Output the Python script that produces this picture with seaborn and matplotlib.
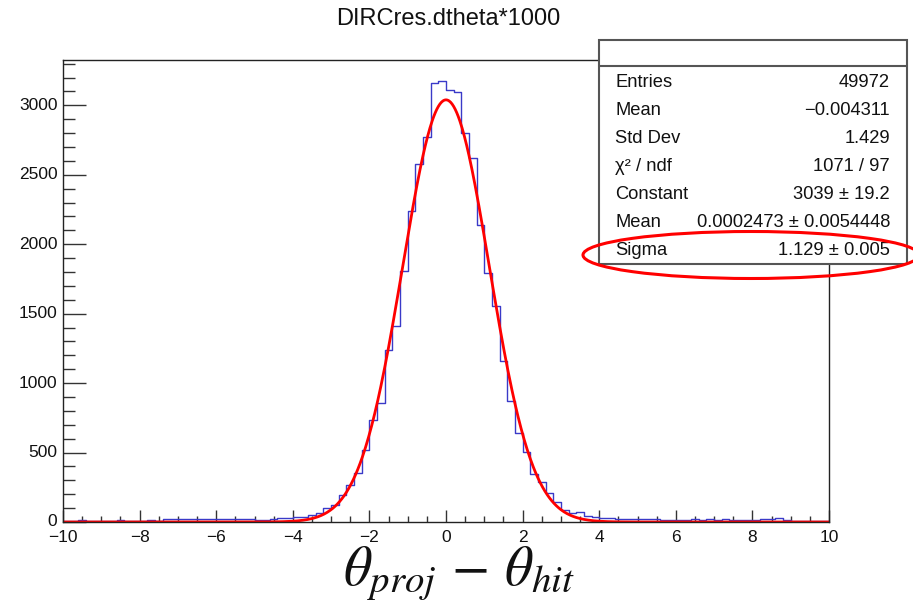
import numpy as np
import pandas as pd
import matplotlib
matplotlib.use("Agg")
import matplotlib.pyplot as plt
import seaborn as sns
from matplotlib.patches import Rectangle, Ellipse
from matplotlib.lines import Line2D
from matplotlib.ticker import MultipleLocator

# ---------------- data ----------------
title_text = "DIRCres.dtheta*1000"
x_low, x_high, n_bins = -10.0, 10.0, 100

# bin contents, left to right (bin width 0.2 from -10 to 10)
counts = [
    8, 10, 14, 9, 8, 10, 9, 11, 10, 9,            # -10.0 .. -8.2
    10, 11, 10, 20, 21, 22, 20, 21, 22, 20,       # -8.0 .. -6.2
    21, 22, 21, 22, 20, 14, 12, 22, 30, 31,       # -6.0 .. -4.2
    33, 38, 48, 67, 103, 122, 195, 267, 351, 520, # -4.0 .. -2.2
    734, 857, 1240, 1408, 1805, 2238, 2577, 2775, 3160, 3177,  # -2.0 .. -0.2
    3112, 3095, 2799, 2621, 2137, 1796, 1552, 1162, 874, 638,  # 0.0 .. 1.8
    505, 344, 285, 208, 143, 86, 63, 70, 45, 38,  # 2.0 .. 3.8
    31, 31, 22, 22, 22, 22, 22, 18, 16, 16,       # 4.0 .. 5.8
    16, 16, 20, 16, 22, 16, 18, 14, 14, 14,       # 6.0 .. 7.8
    14, 18, 20, 26, 12, 8, 8, 8, 8, 8,            # 8.0 .. 9.8
]

# fit result (gaus) as shown in the stats box
fit_constant = 3039.0
fit_mean = 0.0002473
fit_sigma = 1.129

stat_labels = ["Entries", "Mean", "Std Dev", "\u03c7\u00b2 / ndf", "Constant", "Mean", "Sigma"]
stat_values = ["49972", "\u22120.004311", "1.429", "1071 / 97",
               "3039 \u00b1 19.2", "0.0002473 \u00b1 0.0054448", "1.129 \u00b1 0.005"]

x_ticks = [-10, -8, -6, -4, -2, 0, 2, 4, 6, 8, 10]
y_ticks = [0, 500, 1000, 1500, 2000, 2500, 3000]
y_max = 3326
x_label = r"$\theta_{proj}\,-\,\theta_{hit}$"

# ---------------- figure ----------------
sns.set_theme(style="ticks")
plt.rcParams["font.family"] = ["Liberation Sans", "DejaVu Sans"]
plt.rcParams["mathtext.fontset"] = "stix"

W, H = 913, 609
fig = plt.figure(figsize=(W / 100, H / 100), dpi=100)
fig.patch.set_facecolor("white")

ax_l, ax_r, ax_t, ax_b = 63, 829, 60, 522
ax = fig.add_axes([ax_l / W, 1 - ax_b / H, (ax_r - ax_l) / W, (ax_b - ax_t) / H])
ax.set_facecolor("white")

bin_w = (x_high - x_low) / n_bins
centers = x_low + bin_w * (np.arange(n_bins) + 0.5)
df = pd.DataFrame({"x": centers, "w": np.asarray(counts, dtype=float)})

sns.histplot(data=df, x="x", weights="w", binwidth=bin_w, binrange=(x_low, x_high),
             element="step", fill=False, color="#3a3ac8", linewidth=1.0, ax=ax)

fit_x = np.linspace(x_low, x_high, 1001)
fit_y = fit_constant * np.exp(-0.5 * ((fit_x - fit_mean) / fit_sigma) ** 2)
sns.lineplot(x=fit_x, y=fit_y, color="#ff0000", linewidth=2.0, ax=ax,
             estimator=None, sort=False)

ax.set_xlim(x_low, x_high)
ax.set_ylim(0, y_max)
ax.set_xlabel("")
ax.set_ylabel("")
ax.set_xticks(x_ticks)
ax.set_yticks(y_ticks)
ax.set_xticklabels([str(v).replace("-", "\u2212") for v in x_ticks])
ax.set_yticklabels([str(v) for v in y_ticks])
ax.xaxis.set_minor_locator(MultipleLocator(0.5))
ax.yaxis.set_minor_locator(MultipleLocator(100))

for s in ax.spines.values():
    s.set_visible(True)
    s.set_color("#222222")
    s.set_linewidth(1.0)

ax.tick_params(axis="both", which="both", direction="in", color="#333333",
               width=1.0, labelsize=12.5, labelcolor="#111111")
ax.tick_params(axis="y", which="major", length=16.3, pad=4, left=True, right=False)
ax.tick_params(axis="y", which="minor", length=8.4, left=True, right=False)
ax.tick_params(axis="x", which="major", length=9.0, pad=5.5, bottom=True, top=False)
ax.tick_params(axis="x", which="minor", length=4.2, bottom=True, top=False)
for lbl in ax.get_yticklabels():
    lbl.set_verticalalignment("center")

# title
fig.text(448 / W, 1 - 19 / H, title_text, ha="center", va="center",
         fontsize=17, color="#111111")

# x-axis label
fig.text(459 / W, 1 - 574 / H, x_label, ha="center", va="center",
         fontsize=40, color="#111111")

# stats box
bx0, bx1, by0, by1, hdr = 599, 907, 39.5, 263.5, 65.5
fig.patches.append(Rectangle((bx0 / W, 1 - by1 / H), (bx1 - bx0) / W, (by1 - by0) / H,
                             transform=fig.transFigure, facecolor="white",
                             edgecolor="#555555", linewidth=1.5, zorder=5))
fig.lines.append(Line2D([bx0 / W, bx1 / W], [1 - hdr / H, 1 - hdr / H],
                        transform=fig.transFigure, color="#555555", linewidth=1.5, zorder=6))
row0, row_step = 82.3, 28.07
for i, (lab, val) in enumerate(zip(stat_labels, stat_values)):
    yy = 1 - (row0 + i * row_step) / H
    fig.text(615 / W, yy, lab, ha="left", va="center", fontsize=13.2,
             color="#111111", zorder=7)
    fig.text(890 / W, yy, val, ha="right", va="center", fontsize=13.2,
             color="#111111", zorder=7)

# red ellipse around Sigma row
fig.patches.append(Ellipse((751 / W, 1 - 255 / H), 336 / W, 47 / H,
                           transform=fig.transFigure, fill=False,
                           edgecolor="#ff0000", linewidth=2.2, zorder=8))

fig.savefig("out.png", dpi=100, facecolor="white")
